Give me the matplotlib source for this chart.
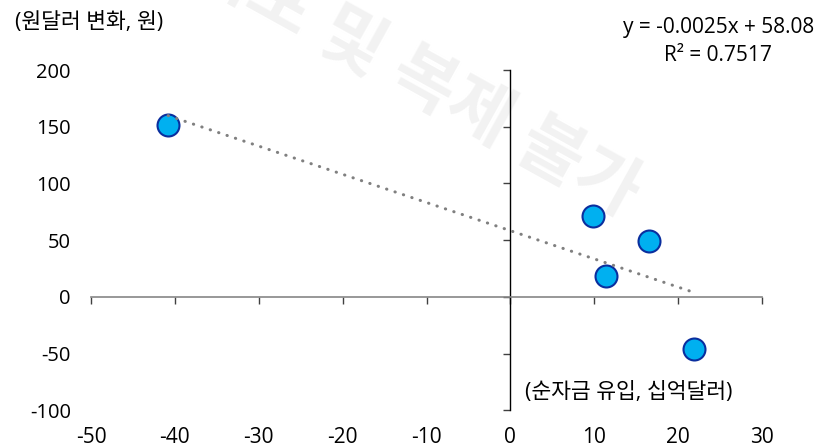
import numpy as np
import matplotlib
matplotlib.use("Agg")
import matplotlib.pyplot as plt

plt.rcParams['font.family'] = ['Open Sans', 'Noto Sans CJK KR', 'DejaVu Sans']
plt.rcParams['axes.unicode_minus'] = False

# 순자금 유입(십억달러) vs 원달러 변화(원)
flow = [-40.8, 9.9, 11.4, 16.5, 21.9]
krw_change = [151.7, 71.7, 18.5, 49.1, -46.1]

xticks = [-50, -40, -30, -20, -10, 0, 10, 20, 30]
yticks = [-100, -50, 0, 50, 100, 150, 200]

fig = plt.figure(figsize=(8.39, 4.47), dpi=100)
ax = fig.add_axes([0.1085, 0.0819, 0.7997, 0.7615])
ax.patch.set_alpha(0)
ax.set_xlim(-50, 30)
ax.set_ylim(-100, 200)
ax.set_xticks(xticks)
ax.set_yticks(yticks)

# axes cross at zero, labels stay at the edges
ax.spines['left'].set_visible(False)
ax.spines['bottom'].set_visible(False)
ax.spines['right'].set_position(('data', 0))
ax.spines['top'].set_position(('data', 0))
ax.spines['right'].set_color('black')
ax.spines['top'].set_color('#868686')
ax.spines['right'].set_linewidth(1.0)
ax.spines['top'].set_linewidth(1.2)
ax.tick_params(axis='y', left=False, right=True, labelleft=True, labelright=False,
               direction='in', length=5, width=1, color='#404040', pad=14.5, labelsize=14.5)
ax.tick_params(axis='x', bottom=False, top=True, labelbottom=True, labeltop=False,
               direction='in', length=5, width=1, color='#404040', pad=12, labelsize=15)

# trend line
a, b = np.polyfit(flow, krw_change, 1)
xs = np.array([min(flow), max(flow)])
ax.plot(xs, a * xs + b, color='#808080', lw=2.2, linestyle=(0, (0.1, 2.8)),
        dash_capstyle='round', zorder=4)

ax.scatter(flow, krw_change, s=250, color='#00B0F0', edgecolor='#0A2E9E',
           linewidth=1.5, zorder=3)

fig.text(0.018, 0.95, '(원달러 변화, 원)', fontsize=15.5, va='center', ha='left')
fig.text(0.626, 0.121, '(순자금 유입, 십억달러)', fontsize=15.5, va='center', ha='left')
fig.text(0.856, 0.907, 'y = -0.0025x + 58.08\nR² = 0.7517', fontsize=15,
         va='center', ha='center', multialignment='center', linespacing=1.4)

# watermark, behind the axes
fig.text(0.755, 0.55, '무단 배포 및 복제 불가', fontsize=50, fontweight='bold',
         color='#f2f2f2', rotation=-29, rotation_mode='anchor', ha='right',
         va='center', zorder=-1)

fig.savefig('out.png', dpi=100)
